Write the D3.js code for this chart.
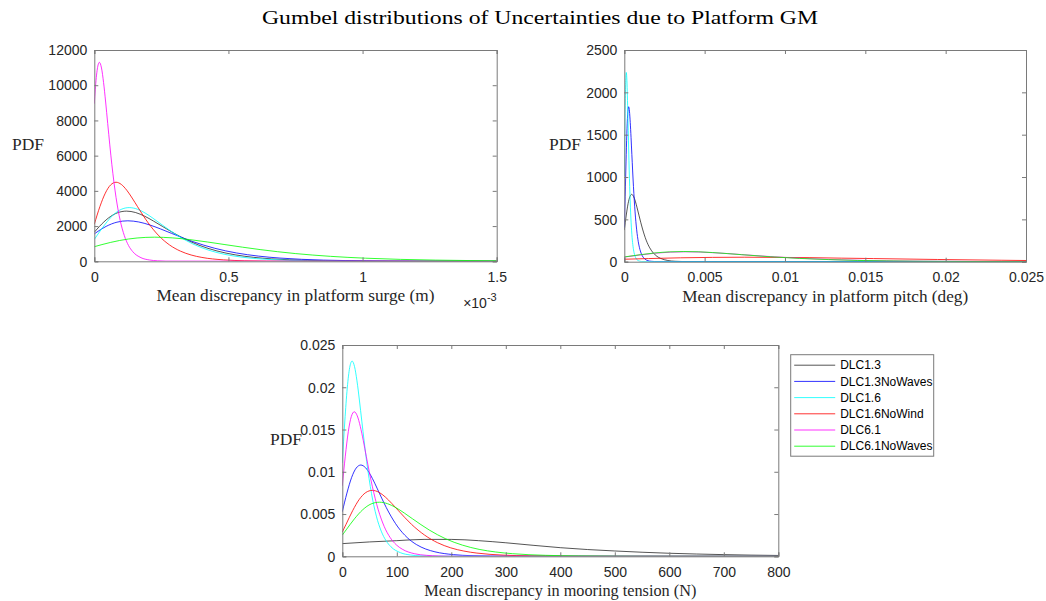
<!DOCTYPE html>
<html>
<head>
<meta charset="utf-8">
<script src="https://cdn.jsdelivr.net/npm/d3@7"></script>
<style>
  html, body { margin: 0; padding: 0; background: #fff; }
  svg { display: block; }
</style>
</head>
<body>
<svg id="fig" width="1046" height="601"></svg>
<script>
// ---- Series names, colours (MATLAB colour letters k, b, c, r, m, g) ----
const seriesNames = ["DLC1.3", "DLC1.3NoWaves", "DLC1.6", "DLC1.6NoWind", "DLC6.1", "DLC6.1NoWaves"];
const seriesColors = ["#000000", "#0000ff", "#00ffff", "#ff0000", "#ff00ff", "#00ff00"];

// ---- Platform surge: x in units of 1e-3 m, PDF ----
const surgeDLC13 = [[0,1655],[0.0188,1975],[0.0525,2456],[0.0863,2755],[0.12,2850],[0.154,2769],[0.1875,2562],[0.221,2281],[0.255,1972],[0.3225,1383],[0.39,916],[0.4575,586],[0.525,367],[0.5925,227],[0.66,139],[0.795,52],[0.93,19],[1.065,7],[1.2,3],[1.5,0]];
const surgeDLC13NoWaves = [[0,1554],[0.0035,1594],[0.044,1982],[0.0845,2223],[0.125,2300],[0.1655,2234],[0.206,2067],[0.2465,1841],[0.287,1592],[0.368,1116],[0.449,739],[0.53,473],[0.611,296],[0.692,183],[0.773,112],[0.935,42],[1.097,15],[1.259,6],[1.421,2],[1.5,1]];
const surgeDLC16 = [[0,1240],[0.011,1487],[0.0408,2113],[0.0705,2628],[0.1,2948],[0.13,3050],[0.16,2963],[0.1895,2742],[0.219,2442],[0.249,2111],[0.3085,1480],[0.368,980],[0.4275,627],[0.487,393],[0.5465,243],[0.606,149],[0.725,56],[0.844,20],[0.963,8],[1.082,3],[1.5,0]];
const surgeDLC16NoWind = [[0,2100],[0.021,3111],[0.041,3869],[0.061,4340],[0.081,4490],[0.101,4362],[0.121,4036],[0.141,3594],[0.161,3108],[0.201,2179],[0.241,1443],[0.281,923],[0.321,578],[0.361,357],[0.401,220],[0.481,82],[0.561,30],[0.641,11],[0.721,4],[1.5,0]];
const surgeDLC61 = [[0,8950],[0.0035,9737],[0.0113,10923],[0.019,11300],[0.0268,10978],[0.0345,10158],[0.0423,9046],[0.05,7821],[0.0655,5483],[0.081,3631],[0.0965,2322],[0.112,1455],[0.1275,899],[0.143,553],[0.174,206],[0.205,76],[0.236,28],[0.267,10],[1.5,0]];
const surgeDLC61NoWaves = [[0,829],[0.0285,949],[0.094,1181],[0.1595,1324],[0.225,1370],[0.2905,1331],[0.356,1231],[0.4215,1097],[0.487,948],[0.618,665],[0.749,440],[0.88,282],[1.011,176],[1.142,109],[1.273,67],[1.404,41],[1.5,29]];

// ---- Platform pitch: x in deg, PDF ----
const pitchDLC13 = [[0,373],[0.000123,551],[0.000235,685],[0.000348,768],[0.00046,795],[0.000573,772],[0.000685,715],[0.000798,636],[0.00091,550],[0.001135,386],[0.00136,255],[0.001585,163],[0.00181,102],[0.002035,63],[0.00226,39],[0.00271,14],[0.00316,5],[0.00361,2],[0.025,0]];
const pitchDLC13NoWaves = [[0,405],[0.00007,892],[0.00012,1268],[0.00017,1577],[0.00022,1769],[0.00027,1830],[0.00032,1778],[0.00037,1645],[0.00042,1465],[0.00047,1267],[0.00057,888],[0.00067,588],[0.00077,376],[0.00087,236],[0.00097,146],[0.00107,89],[0.00127,33],[0.00147,12],[0.00167,5],[0.00187,2],[0.025,0]];
const pitchDLC16 = [[0,1012],[0.000035,1549],[0.000065,1926],[0.000095,2160],[0.000125,2235],[0.000155,2171],[0.000185,2009],[0.000215,1789],[0.000245,1547],[0.000305,1084],[0.000365,718],[0.000425,459],[0.000485,288],[0.000545,178],[0.000605,109],[0.000725,41],[0.000845,15],[0.000965,6],[0.001085,2],[0.025,0]];
const pitchDLC16NoWind = [[0,29],[0.0015,37],[0.0035,46],[0.0055,51],[0.0075,53],[0.0095,51],[0.0115,48],[0.0135,42],[0.0155,37],[0.0195,26],[0.0235,17],[0.025,14]];
const pitchDLC61 = [[0,54],[0.0001,57],[0.00103,81],[0.00195,101],[0.00288,113],[0.0038,117],[0.00473,114],[0.00565,105],[0.00658,94],[0.0075,81],[0.00935,57],[0.0112,38],[0.01305,24],[0.0149,15],[0.01675,9],[0.0186,6],[0.0223,2],[0.025,1]];
const pitchDLC61NoWaves = [[0,56],[0.0001,59],[0.001,83],[0.0019,103],[0.0028,116],[0.0037,120],[0.0046,117],[0.0055,108],[0.0064,96],[0.0073,83],[0.0091,58],[0.0109,39],[0.0127,25],[0.0145,15],[0.0163,10],[0.0181,6],[0.0217,2],[0.025,1]];

// ---- Mooring tension: x in N, PDF ----
const tensionDLC13 = [[0,0.0015],[50,0.0017],[100,0.00185],[150,0.002],[200,0.002],[250,0.00185],[300,0.0016],[350,0.0013],[400,0.00102],[450,0.0008],[500,0.00063],[550,0.00048],[600,0.00036],[650,0.00027],[700,0.0002],[750,0.00014],[800,0.0001]];
const tensionDLC13NoWaves = [[0,0.00527],[8.5,0.00748],[17,0.00931],[25.5,0.01044],[34,0.0108],[42.5,0.01049],[51,0.00971],[59.5,0.00865],[68,0.00747],[85,0.00524],[102,0.00347],[119,0.00222],[136,0.00139],[153,0.00086],[170,0.00053],[204,0.000197],[238,0.0000725],[272,0.0000267],[306,0.0000098],[800,0]];
const tensionDLC16 = [[0,0.01106],[4.65,0.01601],[9.1,0.01991],[13.55,0.02233],[18,0.0231],[22.45,0.02244],[26.9,0.02076],[31.35,0.01849],[35.8,0.01599],[44.7,0.01121],[53.6,0.00742],[62.5,0.00475],[71.4,0.00298],[80.3,0.00184],[89.2,0.00113],[107,0.00042],[124.8,0.000155],[142.6,0.000057],[160.4,0.00002],[800,0]];
const tensionDLC16NoWind = [[0,0.00287],[7,0.0038],[19,0.0054],[31,0.00672],[43,0.00754],[55,0.0078],[67,0.00758],[79,0.00701],[91,0.00624],[103,0.0054],[127,0.00378],[151,0.00251],[175,0.0016],[199,0.001],[223,0.00062],[247,0.00038],[295,0.00014],[343,0.000052],[391,0.000019],[439,0.000007],[800,0]];
const tensionDLC61 = [[0,0.00834],[5.5,0.01185],[11,0.01474],[16.5,0.01653],[22,0.0171],[27.5,0.01661],[33,0.01537],[38.5,0.01369],[44,0.01183],[55,0.0083],[66,0.00549],[77,0.00351],[88,0.0022],[99,0.00136],[110,0.00084],[132,0.00031],[154,0.000115],[176,0.000042],[198,0.000016],[800,0]];
const tensionDLC61NoWaves = [[0,0.00251],[7,0.00312],[22.25,0.00443],[37.5,0.00551],[52.75,0.00619],[68,0.0064],[83.25,0.00622],[98.5,0.00575],[113.75,0.00512],[129,0.00443],[159.5,0.00311],[190,0.00206],[220.5,0.00132],[251,0.00082],[281.5,0.00051],[312,0.00031],[373,0.000116],[434,0.000043],[495,0.000016],[556,0.000006],[800,0]];

// ---- Axis ticks ----
const surgeXTicks = [0, 0.5, 1, 1.5];
const surgeYTicks = [0, 2000, 4000, 6000, 8000, 10000, 12000];
const pitchXTicks = [0, 0.005, 0.01, 0.015, 0.02, 0.025];
const pitchYTicks = [0, 500, 1000, 1500, 2000, 2500];
const tensionXTicks = [0, 100, 200, 300, 400, 500, 600, 700, 800];
const tensionYTicks = [0, 0.005, 0.01, 0.015, 0.02, 0.025];

// ---- Text ----
const figTitle = "Gumbel distributions of Uncertainties due to Platform GM";
const yLabel = "PDF";

const svg = d3.select("#fig");
const serif = "'Liberation Serif', 'DejaVu Serif', serif";
const sans = "'Liberation Sans', Arial, sans-serif";
const axisColor = "#7a7a7a";
const textColor = "#262626";

svg.append("text")
  .attr("x", 540).attr("y", 24)
  .attr("text-anchor", "middle")
  .attr("font-family", serif).attr("font-size", 19)
  .attr("textLength", 556).attr("lengthAdjust", "spacingAndGlyphs")
  .attr("fill", "#000")
  .text(figTitle);

const panels = [
  {
    box: {x: 94.3, y: 50, w: 402.4, h: 211.3},
    xDomain: [0, 1.5], yDomain: [0, 12000],
    xTicks: surgeXTicks, yTicks: surgeYTicks,
    series: [surgeDLC13, surgeDLC13NoWaves, surgeDLC16, surgeDLC16NoWind, surgeDLC61, surgeDLC61NoWaves],
    xLabel: "Mean discrepancy in platform surge (m)", xLabelLen: 278,
    yLabelPos: [12, 150], exponent: true
  },
  {
    box: {x: 624.3, y: 50, w: 401.7, h: 211.7},
    xDomain: [0, 0.025], yDomain: [0, 2500],
    xTicks: pitchXTicks, yTicks: pitchYTicks,
    series: [pitchDLC13, pitchDLC13NoWaves, pitchDLC16, pitchDLC16NoWind, pitchDLC61, pitchDLC61NoWaves],
    xLabel: "Mean discrepancy in platform pitch (deg)", xLabelLen: 286,
    yLabelPos: [549, 150], exponent: false
  },
  {
    box: {x: 342.3, y: 345, w: 436, h: 211.3},
    xDomain: [0, 800], yDomain: [0, 0.025],
    xTicks: tensionXTicks, yTicks: tensionYTicks,
    series: [tensionDLC13, tensionDLC13NoWaves, tensionDLC16, tensionDLC16NoWind, tensionDLC61, tensionDLC61NoWaves],
    xLabel: "Mean discrepancy in mooring tension (N)", xLabelLen: 272,
    yLabelPos: [270, 445], exponent: false
  }
];

panels.forEach((p, i) => {
  const b = p.box;
  const x = d3.scaleLinear().domain(p.xDomain).range([b.x, b.x + b.w]);
  const y = d3.scaleLinear().domain(p.yDomain).range([b.y + b.h, b.y]);
  const g = svg.append("g");

  g.append("rect").attr("x", b.x).attr("y", b.y).attr("width", b.w).attr("height", b.h).attr("fill", "#fff");

  const clipId = "clip" + i;
  svg.append("clipPath").attr("id", clipId)
    .append("rect").attr("x", b.x).attr("y", b.y).attr("width", b.w).attr("height", b.h);

  const line = d3.line().x(d => x(d[0])).y(d => y(d[1])).curve(d3.curveMonotoneX);
  const lines = g.append("g").attr("clip-path", `url(#${clipId})`);
  p.series.forEach((s, k) => {
    lines.append("path").datum(s)
      .attr("d", line)
      .attr("fill", "none")
      .attr("stroke", seriesColors[k])
      .attr("stroke-width", 0.9)
      .attr("stroke-opacity", k === 0 ? 0.75 : 0.9)
      .attr("stroke-linejoin", "round");
  });

  // Axes: MATLAB style box with inward ticks mirrored on top/right
  const tl = 4;
  const fmt = v => String(v);
  const bottom = g.append("g").attr("transform", `translate(0,${b.y + b.h})`)
    .call(d3.axisBottom(x).tickValues(p.xTicks).tickSize(-tl).tickPadding(7).tickFormat(fmt));
  const top = g.append("g").attr("transform", `translate(0,${b.y})`)
    .call(d3.axisTop(x).tickValues(p.xTicks).tickSize(-tl).tickFormat(""));
  const left = g.append("g").attr("transform", `translate(${b.x},0)`)
    .call(d3.axisLeft(y).tickValues(p.yTicks).tickSize(-tl).tickPadding(7).tickFormat(fmt));
  const right = g.append("g").attr("transform", `translate(${b.x + b.w},0)`)
    .call(d3.axisRight(y).tickValues(p.yTicks).tickSize(-tl).tickFormat(""));
  [bottom, top, left, right].forEach(a => {
    a.select(".domain").attr("stroke", axisColor).attr("stroke-width", 1);
    a.selectAll(".tick line").attr("stroke", axisColor).attr("stroke-width", 1);
    a.selectAll(".tick text").attr("font-family", sans).attr("font-size", 14).attr("fill", textColor);
  });
  bottom.selectAll(".tick text").attr("dy", "0.95em");
  left.selectAll(".tick text").attr("dy", "0.34em");

  g.append("text")
    .attr("x", b.x + b.w / 2).attr("y", b.y + b.h + 40)
    .attr("text-anchor", "middle")
    .attr("font-family", serif).attr("font-size", 16)
    .attr("textLength", p.xLabelLen).attr("lengthAdjust", "spacingAndGlyphs")
    .attr("fill", textColor)
    .text(p.xLabel);

  g.append("text")
    .attr("x", p.yLabelPos[0]).attr("y", p.yLabelPos[1])
    .attr("font-family", serif).attr("font-size", 16)
    .attr("textLength", 32).attr("lengthAdjust", "spacingAndGlyphs")
    .attr("fill", textColor)
    .text(yLabel);

  if (p.exponent) {
    const ex = g.append("text")
      .attr("x", b.x + b.w).attr("y", b.y + b.h + 47)
      .attr("text-anchor", "end")
      .attr("font-family", sans).attr("font-size", 14).attr("fill", textColor);
    ex.append("tspan").text("\u00d710");
    ex.append("tspan").attr("dy", -7).attr("font-size", 11).text("-3");
  }

  if (i === 2) {
    // Legend
    const lx = 790.7, ly = 354.7, lw = 143, lh = 101.5, rowH = 16.2;
    const leg = svg.append("g");
    leg.append("rect").attr("x", lx).attr("y", ly).attr("width", lw).attr("height", lh)
      .attr("fill", "#fff").attr("stroke", axisColor).attr("stroke-width", 1);
    seriesNames.forEach((n, k) => {
      const ry = ly + 10.5 + k * rowH;
      leg.append("line").attr("x1", lx + 3.5).attr("x2", lx + 44.5)
        .attr("y1", ry).attr("y2", ry)
        .attr("stroke", seriesColors[k]).attr("stroke-width", 0.9)
        .attr("stroke-opacity", k === 0 ? 0.75 : 0.9);
      leg.append("text").attr("x", lx + 49.5).attr("y", ry).attr("dy", "0.35em")
        .attr("font-family", sans).attr("font-size", 12).attr("fill", "#000")
        .text(n);
    });
  }
});
</script>
</body>
</html>
